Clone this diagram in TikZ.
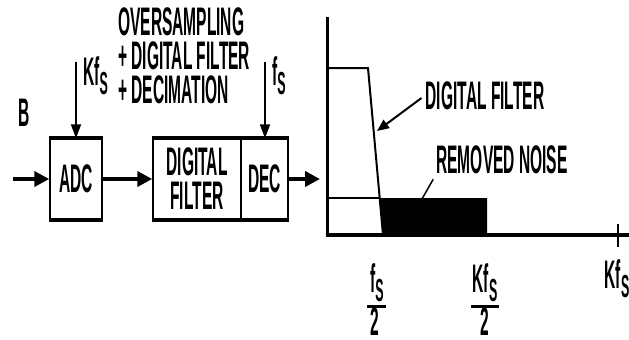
\documentclass[tikz,border=0pt]{standalone}
\usepackage{fontspec}
\setmainfont{Liberation Sans}[FakeStretch=0.39]
\usetikzlibrary{arrows.meta}
\newcommand{\subS}{\raisebox{-9bp}{\fontsize{32}{32}\selectfont S}}
\tikzset{
  txt/.style={font=\fontsize{40}{34}\selectfont\bfseries, inner sep=0pt},
  blk/.style={txt, draw, line width=1.5bp, minimum height=80bp, align=center},
  rim/.style={line width=4bp},
  flow/.style={line width=4bp, -{Triangle[length=15bp,width=15bp]}},
  clk/.style={line width=2bp, -{Triangle[length=14bp,width=10bp]}},
  pointer/.style={line width=2bp, -{Triangle[length=12bp,width=10bp]}},
  curve/.style={line width=2bp},
  fracbar/.style={line width=3bp}
}
\begin{document}
\begin{tikzpicture}[x=1bp,y=-1bp]
  \useasboundingbox (0,0) rectangle (629,339);
  \node[txt] (b) at (24,113) {B};
  \node[txt,anchor=west,align=left] (os) at (118,56) {OVERSAMPLING\\+ DIGITAL FILTER\\+ DECIMATION};
  \node[blk,minimum width=52bp] (adc) at (76,179) {ADC};
  \node[blk,minimum width=88bp] (flt) at (197,179) {DIGITAL\\FILTER};
  \node[blk,minimum width=47bp] (dec) at (264.5,179) {DEC};
  \draw[rim] (adc.north west) -- (adc.north east);
  \draw[rim] (adc.south west) -- (adc.south east);
  \draw[rim] (flt.north west) -- (dec.north east);
  \draw[rim] (flt.south west) -- (dec.south east);
  \coordinate (in) at (13,179);
  \coordinate (out) at (320,179);
  \coordinate (kftop) at (76,62);
  \coordinate (fstop) at (265,62);
  \node[txt,anchor=west] (kf) at (83,76) {Kf\subS};
  \node[txt,anchor=west] (fs) at (272,76) {f\subS};
  \draw[flow] (in) -- (adc);
  \draw[flow] (adc) -- (flt);
  \draw[flow] (dec) -- (out);
  \draw[clk] (kftop) -- (adc);
  \draw[clk] (fstop) -- (fstop |- dec.north);

  \draw[line width=3bp] (327,17) -- (327,237);
  \draw[line width=4bp] (325.5,235) -- (629,235);
  \draw[line width=1.5bp] (618,224) -- (618,247);
  \fill (380,198) -- (487,198) -- (487,235) -- (383,235) -- cycle;
  \draw[curve] (327,198) -- (380,198);
  \draw[curve] (327,68) -- (368,68) -- (383,235);

  \node[txt] (dfl) at (485,96) {DIGITAL FILTER};
  \coordinate (dftip) at (377,131);
  \draw[pointer] ([xshift=-4bp,yshift=-2bp]dfl.west) -- (dftip);
  \node[txt] (rn) at (502,160) {REMOVED NOISE};
  \coordinate (rntip) at (422,199);
  \draw[line width=1.5bp] ([xshift=-3bp,yshift=-5bp]rn.south west) -- (rntip);

  \node[txt] (h1) at (377,283) {f\subS};
  \node[txt] (h1d) at (375,322) {2};
  \draw[fracbar] ([xshift=-3bp,yshift=-4bp]h1.south west) -- ([xshift=2bp,yshift=-4bp]h1.south east);
  \node[txt] (h2) at (485,283) {Kf\subS};
  \node[txt] (h2d) at (485,322) {2};
  \draw[fracbar] ([xshift=-1bp,yshift=-4bp]h2.south west) -- ([xshift=1bp,yshift=-4bp]h2.south east);
  \node[txt] (kfx) at (617,279) {Kf\subS};
\end{tikzpicture}
\end{document}
